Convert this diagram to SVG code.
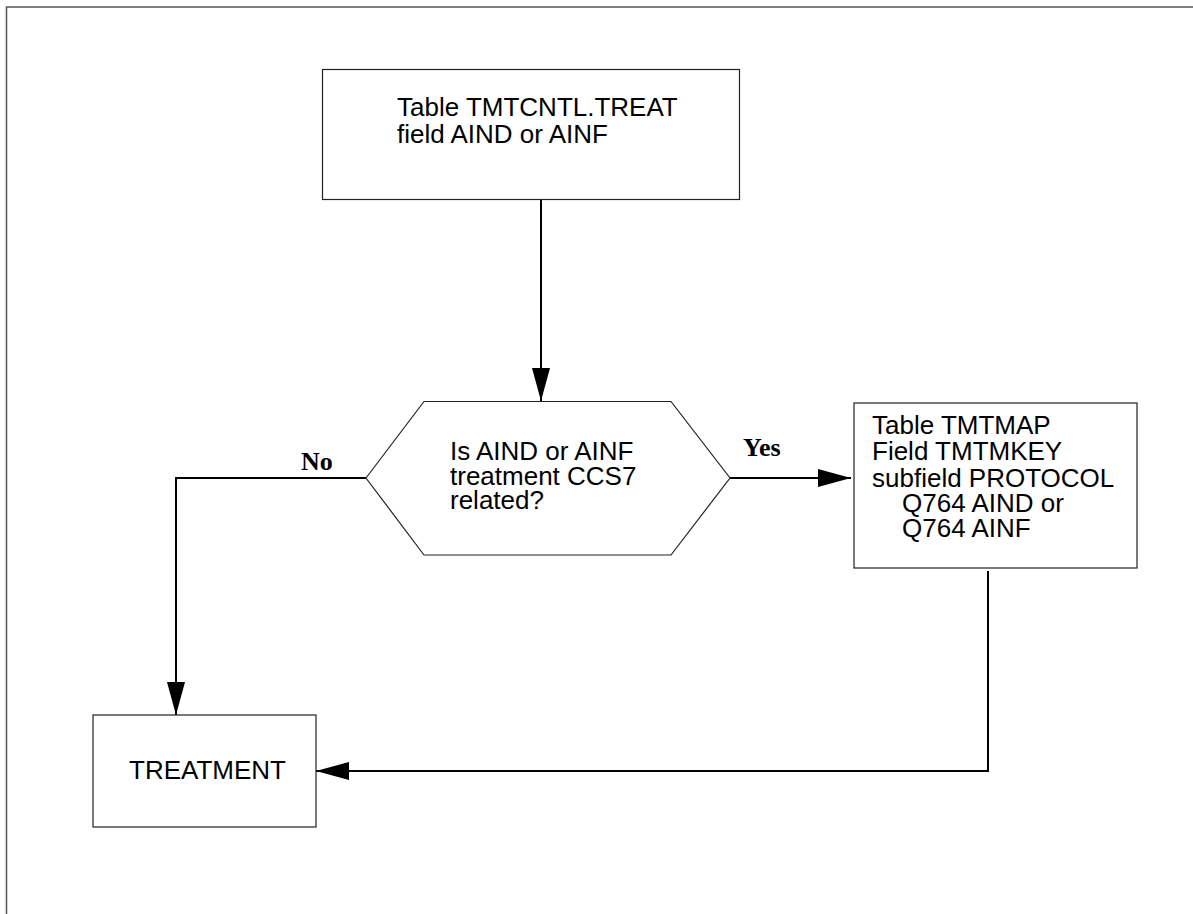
<svg xmlns="http://www.w3.org/2000/svg" width="1193" height="914" viewBox="0 0 1193 914">
<style>
.box{fill:#fff;stroke:#222;stroke-width:1.2}
.t{font-family:"Liberation Sans",Arial,sans-serif;font-size:26px;fill:#000}
.lbl{font-family:"Liberation Serif","Times New Roman",serif;font-size:26px;font-weight:bold;fill:#000}
.c{fill:none;stroke:#000;stroke-width:2}
</style>
<defs>
<marker id="ah" viewBox="0 0 33 18" refX="33" refY="9" markerWidth="33" markerHeight="18" markerUnits="userSpaceOnUse" orient="auto">
<path d="M0,0 L33,9 L0,18 Z" fill="#000"/>
</marker>
</defs>
<rect width="1193" height="914" fill="#fff"/>
<path d="M6.5,914 V7 H1193" fill="none" stroke="#555" stroke-width="1.5"/>
<g id="connectors">
<line class="c" x1="541" y1="199" x2="541" y2="401" marker-end="url(#ah)"/>
<line class="c" x1="730" y1="478" x2="851" y2="478" marker-end="url(#ah)"/>
<polyline class="c" points="366,478 176,478 176,715" marker-end="url(#ah)"/>
<polyline class="c" points="988,571 988,771 316,771" marker-end="url(#ah)"/>
<text class="lbl" x="301" y="470">No</text>
<text class="lbl" x="743" y="456">Yes</text>
</g>
<g id="node-tmtcntl">
<rect class="box" x="322.5" y="69.5" width="417" height="130"/>
<text class="t" x="397" y="116">Table TMTCNTL.TREAT</text>
<text class="t" x="397" y="143">field AIND or AINF</text>
</g>
<g id="node-decision">
<polygon class="box" points="366,478 424,401.5 671,401.5 730,478 671,555 424,555"/>
<text class="t" x="450" y="460">Is AIND or AINF</text>
<text class="t" x="450" y="485">treatment CCS7</text>
<text class="t" x="450" y="509">related?</text>
</g>
<g id="node-tmtmap">
<rect class="box" x="854" y="403" width="283" height="165"/>
<text class="t" x="872" y="434">Table TMTMAP</text>
<text class="t" x="872" y="460">Field TMTMKEY</text>
<text class="t" x="872" y="487">subfield PROTOCOL</text>
<text class="t" x="902" y="512">Q764 AIND or</text>
<text class="t" x="902" y="537">Q764 AINF</text>
</g>
<g id="node-treatment">
<rect class="box" x="93" y="715" width="223" height="112"/>
<text class="t" x="129" y="779">TREATMENT</text>
</g>
</svg>
